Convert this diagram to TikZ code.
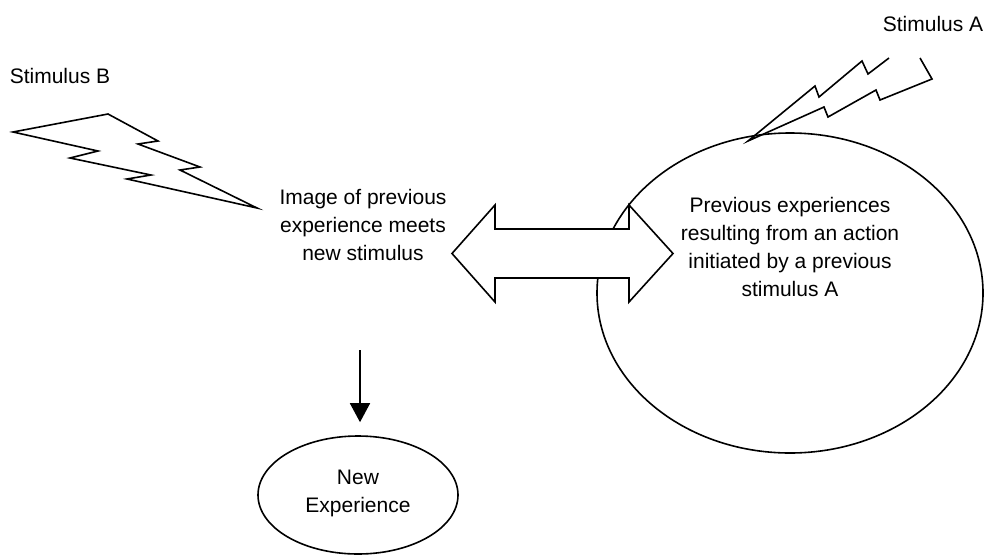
\documentclass[tikz,border=0pt]{standalone}
\usepackage{fontspec}
\setmainfont{Liberation Sans}
\usetikzlibrary{arrows.meta,shapes.geometric}
\begin{document}
\begin{tikzpicture}[x=1pt,y=-1pt,
  outline/.style={draw=black,line width=1.6pt,line join=miter},
  label/.style={font=\fontsize{21}{28}\selectfont,align=center,inner sep=0pt},
  bubble/.style={outline,ellipse,inner sep=0pt}]
\useasboundingbox[fill=white] (0,0) rectangle (988,555);

% large ellipse holding the earlier experiences
\node[bubble,minimum width=386pt,minimum height=320pt] (prev) at (790,293) {};
\node[label] (prevtxt) at (790,247) {Previous experiences\\resulting from an action\\initiated by a previous\\stimulus A};

% two-way arrow between the image and the earlier experiences
\draw[outline,fill=white] (452,253.5) -- (495,205) -- (495,229) -- (629,229) -- (629,205)
  -- (673,253.5) -- (629,302) -- (629,278) -- (495,278) -- (495,302) -- cycle;

% central text
\node[label] (img) at (363,225) {Image of previous\\experience meets\\new stimulus};

% resulting experience
\node[bubble,minimum width=200pt,minimum height=118pt] (newexp) at (358,495) {};
\node[label] (newtxt) at (358,493) {New\\Experience};
\coordinate (arrowstart) at (360,350);
\draw[line width=1.6pt,-{Triangle[length=19pt,width=20pt]},shorten >=13pt] (arrowstart) -- (newexp.north -| arrowstart);

% stimulus B bolt
\node[label] (stimB) at (60,76) {Stimulus B};
\draw[outline] (13,132) -- (108,114) -- (158,141) -- (138,144) -- (200,167) -- (180,170)
  -- (257,208) -- (127,179) -- (151,175) -- (70,158) -- (98,151) -- cycle;

% stimulus A bolt, open at its top end
\node[label] (stimA) at (933,24) {Stimulus A};
\draw[outline] (889,58) -- (868,74) -- (862,61) -- (819,97) -- (815,86) -- (748,141)
  -- (824,107) -- (828,117) -- (876,90) -- (880,100) -- (932,79) -- (920,58);
\end{tikzpicture}
\end{document}
